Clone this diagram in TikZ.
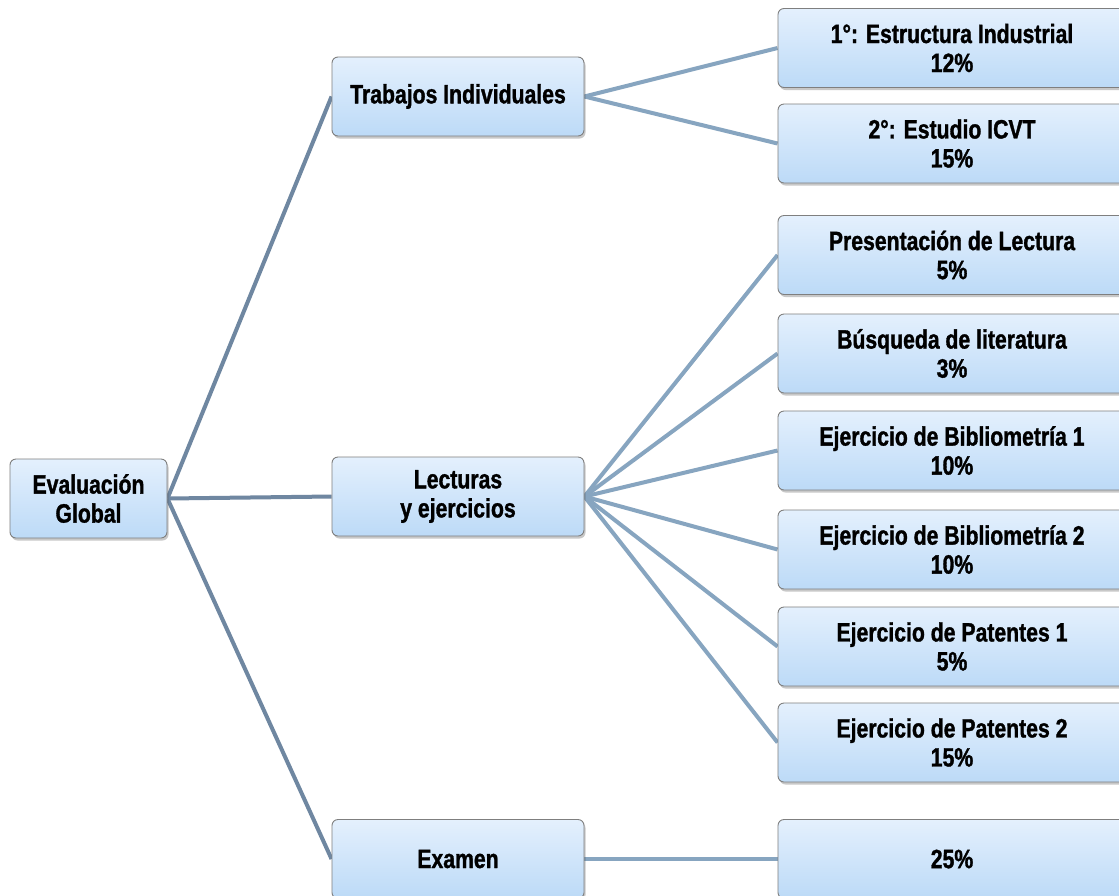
\documentclass[tikz,border=0pt]{standalone}
\usepackage{fontspec}
\setmainfont{Liberation Sans}[FakeStretch=0.8,BoldFeatures={FakeBold=1.2}]
\usetikzlibrary{shadows,backgrounds}
\definecolor{boxtop}{HTML}{E4F0FD}
\definecolor{boxbot}{HTML}{BCDAF7}
\definecolor{boxline}{HTML}{7F7F7F}
\definecolor{linkA}{HTML}{6F87A1}
\definecolor{linkB}{HTML}{87A5C0}
\begin{document}
\begin{tikzpicture}[x=1pt,y=-1pt,
  box/.style={draw=boxline, line width=0.9pt, rounded corners=6pt,
    top color=boxtop, bottom color=boxbot, minimum height=79pt,
    inner sep=0pt, align=center,
    font=\bfseries\fontsize{26.5}{29}\selectfont,
    drop shadow={shadow xshift=1.5pt, shadow yshift=-2.5pt, opacity=0.3, fill=black!70}},
  lbox/.style={box, minimum width=252pt},
  rbox/.style={box, minimum width=348pt},
  linka/.style={draw=linkA, line width=4pt},
  linkb/.style={draw=linkB, line width=4pt}]
\useasboundingbox (0,0) rectangle (1119,895);

\node[box, minimum width=157pt] (eval) at (88.5,498.5) {Evaluación\\Global};

\node[lbox] (trab) at (458,96.5) {Trabajos Individuales};
\node[lbox] (lect) at (458,496.5) {Lecturas\\y ejercicios};
\node[lbox] (exam) at (458,859) {Examen};

\node[rbox] (r1) at (952,48) {1°: Estructura Industrial\\12\%};
\node[rbox] (r2) at (952,143.5) {2°: Estudio ICVT\\15\%};
\node[rbox] (pres) at (952,255) {Presentación de Lectura\\5\%};
\node[rbox] (busq) at (952,353.5) {Búsqueda de literatura\\3\%};
\node[rbox] (bib1) at (952,450.5) {Ejercicio de Bibliometría 1\\10\%};
\node[rbox] (bib2) at (952,549.5) {Ejercicio de Bibliometría 2\\10\%};
\node[rbox] (pat1) at (952,646.5) {Ejercicio de Patentes 1\\5\%};
\node[rbox] (pat2) at (952,742.5) {Ejercicio de Patentes 2\\15\%};
\node[rbox] (pct) at (952,859) {25\%};

\begin{scope}[on background layer]
  \fill[white] (0,0) rectangle (1119,895);
  \draw[linka] (eval.east) -- (trab.west);
  \draw[linka] (eval.east) -- (lect.west);
  \draw[linka] (eval.east) -- (exam.west);
  \draw[linkb] (trab.east) -- (r1.west);
  \draw[linkb] (trab.east) -- (r2.west);
  \draw[linkb] (lect.east) -- (pres.west);
  \draw[linkb] (lect.east) -- (busq.west);
  \draw[linkb] (lect.east) -- (bib1.west);
  \draw[linkb] (lect.east) -- (bib2.west);
  \draw[linkb] (lect.east) -- (pat1.west);
  \draw[linkb] (lect.east) -- (pat2.west);
  \draw[linkb] (exam.east) -- (pct.west);
\end{scope}
\end{tikzpicture}
\end{document}
